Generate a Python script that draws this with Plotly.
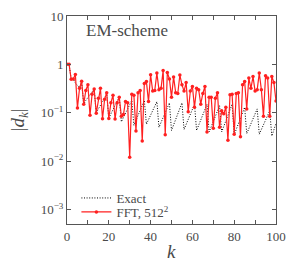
import plotly.graph_objects as go

k = list(range(101))

fft = [1.0, 1.0, 0.49, 0.50, 0.62, 0.125, 0.32, 0.45, 0.15, 0.29,
       0.38, 0.089, 0.24, 0.31, 0.098, 0.20, 0.32, 0.075, 0.19, 0.26,
       0.076, 0.16, 0.23, 0.074, 0.16, 0.21, 0.085, 0.092, 0.17, 0.16,
       0.012, 0.24, 0.23, 0.042, 0.26, 0.29, 0.026, 0.40, 0.44, 0.17,
       0.61, 0.28, 0.29, 0.66, 0.30, 0.32, 0.75, 0.035, 0.68, 0.50,
       0.21, 0.55, 0.26, 0.25, 0.60, 0.38, 0.28, 0.42, 0.105, 0.28,
       0.35, 0.13, 0.32, 0.30, 0.15, 0.25, 0.35, 0.04, 0.21, 0.21,
       0.048, 0.20, 0.26, 0.05, 0.11, 0.095, 0.13, 0.027, 0.235, 0.24,
       0.036, 0.25, 0.26, 0.032, 0.38, 0.44, 0.12, 0.52, 0.32, 0.56,
       0.28, 0.30, 0.66, 0.30, 0.085, 0.58, 0.52, 0.085, 0.56, 0.42,
       0.175]

exact = [1.0, 1.0, 0.49, 0.50, 0.41, 0.36, 0.33, 0.43, 0.15, 0.18,
         0.21, 0.24, 0.27, 0.31, 0.098, 0.12, 0.14, 0.17, 0.20, 0.25,
         0.077, 0.095, 0.115, 0.14, 0.17, 0.21, 0.065, 0.08, 0.095, 0.12,
         0.15, 0.18, 0.055, 0.07, 0.085, 0.11, 0.14, 0.18, 0.058, 0.072,
         0.088, 0.11, 0.135, 0.17, 0.05, 0.063, 0.078, 0.098, 0.125, 0.16,
         0.043, 0.056, 0.07, 0.09, 0.12, 0.16, 0.045, 0.058, 0.072, 0.09,
         0.115, 0.15, 0.043, 0.055, 0.07, 0.09, 0.115, 0.15, 0.04, 0.051,
         0.065, 0.083, 0.11, 0.14, 0.04, 0.052, 0.066, 0.085, 0.11, 0.15,
         0.035, 0.046, 0.058, 0.074, 0.098, 0.13, 0.037, 0.047, 0.058, 0.073,
         0.093, 0.12, 0.036, 0.045, 0.055, 0.068, 0.086, 0.11, 0.033, 0.045,
         0.06]

x_tickvals = [0, 10, 20, 30, 40, 50, 60, 70, 80, 90, 100]
x_ticktext = ["0", "", "20", "", "40", "", "60", "", "80", "", "100"]
y_tickvals = [1e-3, 1e-2, 1e-1, 1, 10]
y_ticktext = ["10<sup>−3</sup>", "10<sup>−2</sup>", "10<sup>−1</sup>", "1", "10"]

SERIF = "Liberation Serif, DejaVu Serif, serif"
TXT = "#4a4a4a"

fig = go.Figure()
fig.add_trace(go.Scatter(
    x=k, y=exact, mode="lines", name="Exact", legend="legend",
    line=dict(color="black", width=1, dash="1px,1.6px"),
))
fig.add_trace(go.Scatter(
    x=k, y=fft, mode="lines+markers", name="FFT, 512<sup>2</sup>", legend="legend2",
    line=dict(color="#ff2020", width=1.2),
    marker=dict(color="#ff2020", size=3.5),
))

leg = dict(xanchor="left", yanchor="middle", bgcolor="rgba(0,0,0,0)",
           font=dict(size=13, color=TXT, family=SERIF), itemwidth=30,
           borderwidth=0)

fig.update_layout(
    width=292, height=263,
    margin=dict(l=59, r=24, t=8, b=47, autoexpand=False),
    paper_bgcolor="white", plot_bgcolor="white",
    font=dict(family=SERIF, size=13, color=TXT),
    showlegend=True,
    legend=dict(x=0.045, y=0.125, **leg),
    legend2=dict(x=0.045, y=0.058, **leg),
    xaxis=dict(range=[0, 100], tickvals=x_tickvals, ticktext=x_ticktext,
               ticks="inside", ticklen=4, tickcolor="#555", showline=True,
               linecolor="#555", linewidth=1, mirror="allticks",
               showgrid=False, zeroline=False, automargin=False),
    yaxis=dict(type="log", range=[-3.3, 1], tickvals=y_tickvals, ticktext=y_ticktext,
               ticks="inside", ticklen=4, tickcolor="#555", showline=True,
               linecolor="#555", linewidth=1, mirror="allticks",
               showgrid=False, zeroline=False, automargin=False),
    annotations=[
        dict(text="EM-scheme", x=0.08, y=0.928, xref="paper", yref="paper",
             xanchor="left", yanchor="middle", showarrow=False,
             font=dict(size=17, color=TXT, family=SERIF)),
        dict(text="<i>k</i>", x=0.5, y=-0.13, xref="paper", yref="paper",
             xanchor="center", yanchor="middle", showarrow=False,
             font=dict(size=19, color=TXT, family=SERIF)),
        dict(text="|<i>d<sub>k</sub></i>|", x=-0.228, y=0.5, xref="paper", yref="paper",
             xanchor="center", yanchor="middle", showarrow=False, textangle=-90,
             font=dict(size=19, color=TXT, family=SERIF)),
    ],
)

fig.write_html("out.html")
